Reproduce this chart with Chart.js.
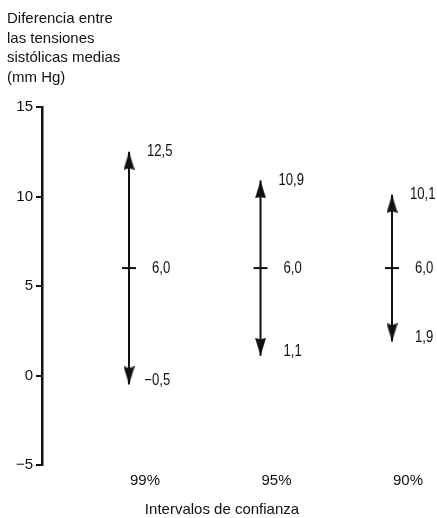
<!DOCTYPE html>
<html lang="es">
<head>
<meta charset="utf-8">
<title>Intervalos de confianza</title>
<script src="https://cdn.jsdelivr.net/npm/chart.js@4.4.1/dist/chart.umd.min.js"></script>
<style>
  html, body { margin: 0; padding: 0; background: #fff; }
  #wrap { width: 437px; height: 518px; position: relative; }
</style>
</head>
<body>
<div id="wrap"><canvas id="chart" width="437" height="518"></canvas></div>
<script>
// Confidence intervals for the difference in mean systolic pressure
const categories = ['99%', '95%', '90%'];
const means = [6.0, 6.0, 6.0];
const lower = [-0.5, 1.1, 1.9];
const upper = [12.5, 10.9, 10.1];
const yTicks = [-5, 0, 5, 10, 15];
const yTitleLines = ['Diferencia entre', 'las tensiones', 'sistólicas medias', '(mm Hg)'];
const xTitle = 'Intervalos de confianza';

const FONT = "'Liberation Sans', Arial, Helvetica, sans-serif";
const INK = '#111';

// decimal comma and a true minus sign
const fmt = v => (v < 0 ? '\u2212' : '') + Math.abs(v).toFixed(1).replace('.', ',');
const fmtTick = v => (v < 0 ? '\u2212' : '') + Math.abs(v);

// arrowhead images: the tip sits at the canvas centre so it lands on the data value
function makeHead(up) {
  const w = 11, head = 18, h = head * 2, c = document.createElement('canvas');
  c.width = w; c.height = h;
  const g = c.getContext('2d');
  g.fillStyle = INK;
  g.beginPath();
  if (up) {
    g.moveTo(w / 2, head);
    g.lineTo(w, h);
    g.lineTo(w / 2, h - 1.5);
    g.lineTo(0, h);
  } else {
    g.moveTo(w / 2, head);
    g.lineTo(w, 0);
    g.lineTo(w / 2, 1.5);
    g.lineTo(0, 0);
  }
  g.closePath();
  g.fill();
  return c;
}
const upHead = makeHead(true);
const downHead = makeHead(false);

const intervalSets = categories.map((cat, i) => ({
  type: 'line',
  label: cat,
  data: [{ x: i, y: lower[i] }, { x: i, y: upper[i] }],
  borderColor: INK,
  borderWidth: 2,
  pointRadius: 5,
  pointStyle: ctx => (ctx.dataIndex === 0 ? downHead : upHead),
  clip: false
}));

const meanSet = {
  type: 'scatter',
  label: 'media',
  data: categories.map((c, i) => ({ x: i, y: means[i] })),
  pointStyle: 'line',
  pointRadius: 7,
  borderColor: INK,
  borderWidth: 2,
  clip: false
};

// condensed text for the value labels
const SQUEEZE = 0.82;
function narrowText(ctx, text, x, y) {
  ctx.save();
  ctx.translate(x, y);
  ctx.scale(SQUEEZE, 1);
  ctx.fillText(text, 0, 0);
  ctx.restore();
}

// text around the plot: the stacked y title, the x title and the value labels
const annotate = {
  id: 'annotate',
  afterDraw(chart) {
    const { ctx, scales: { x, y } } = chart;
    ctx.save();
    ctx.fillStyle = INK;
    ctx.font = '15px ' + FONT;
    ctx.textAlign = 'left';
    ctx.textBaseline = 'alphabetic';
    yTitleLines.forEach((t, k) => ctx.fillText(t, 7, 23 + k * 19.5));

    ctx.textAlign = 'center';
    ctx.fillText(xTitle, 222, 514);

    ctx.font = '16px ' + FONT;
    ctx.textAlign = 'left';
    ctx.textBaseline = 'middle';
    categories.forEach((c, i) => {
      const px = x.getPixelForValue(i);
      narrowText(ctx, fmt(upper[i]), px + 18, y.getPixelForValue(upper[i]));
      narrowText(ctx, fmt(means[i]), px + 23, y.getPixelForValue(means[i]));
      let lx = px + 23;
      if (lower[i] < 0) lx -= ctx.measureText('\u2212').width * SQUEEZE;
      narrowText(ctx, fmt(lower[i]), lx, y.getPixelForValue(lower[i]) - 4);
    });
    ctx.restore();
  }
};

new Chart(document.getElementById('chart'), {
  data: { datasets: [...intervalSets, meanSet] },
  options: {
    responsive: false,
    animation: false,
    events: [],
    layout: { autoPadding: false, padding: { top: 107, left: 0, right: 0, bottom: 27 } },
    plugins: { legend: { display: false }, tooltip: { enabled: false }, title: { display: false } },
    scales: {
      x: {
        type: 'linear',
        min: -0.6616,
        max: 2.342,
        afterFit: s => { s.height = 26; },
        afterBuildTicks: s => { s.ticks = categories.map((c, i) => ({ value: i })); },
        grid: { display: false, drawTicks: false },
        border: { display: false },
        ticks: {
          callback: v => categories[v],
          labelOffset: 16,
          padding: 7,
          color: INK,
          font: { family: FONT, size: 15 },
          maxRotation: 0
        }
      },
      y: {
        type: 'linear',
        min: -5,
        max: 15,
        afterFit: s => { s.width = 42; },
        afterBuildTicks: s => { s.ticks = yTicks.map(v => ({ value: v })); },
        grid: { drawOnChartArea: false, drawTicks: true, tickLength: 6, lineWidth: 2, color: INK },
        border: { display: true, color: INK, width: 2.5 },
        ticks: {
          callback: v => fmtTick(v),
          padding: 3,
          color: INK,
          font: { family: FONT, size: 15 }
        }
      }
    }
  },
  plugins: [annotate]
});
</script>
</body>
</html>
